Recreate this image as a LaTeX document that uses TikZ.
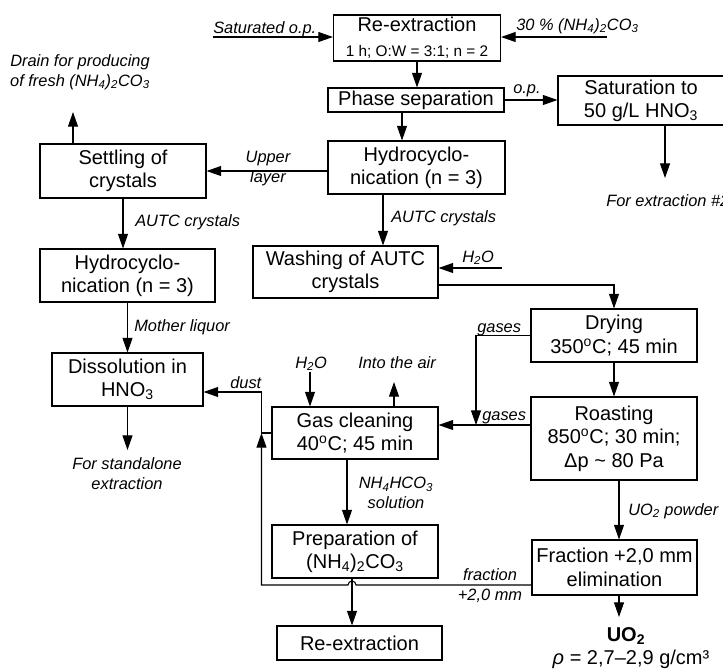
\documentclass[tikz,border=0pt]{standalone}
\usepackage{fontspec}
\setmainfont{Liberation Sans}
\usepackage{tikz}
\usetikzlibrary{arrows.meta,calc,positioning}

\newcommand{\boxfont}{\fontsize{15}{17.5}\selectfont}
\newcommand{\lblfont}{\fontsize{12.3}{15}\selectfont\itshape}
\newcommand{\sub}[1]{\textsubscript{#1}}

\tikzset{
    stage/.style={draw, line width=0.8pt, align=center, inner sep=0pt, font=\boxfont},
    lbl/.style={inner sep=0pt, align=center, font=\lblfont},
    arr/.style={-{Triangle[length=11pt,width=7.5pt]}, line width=0.8pt},
    ln/.style={line width=0.8pt}
}

\begin{document}
\begin{tikzpicture}[x=0.75pt,y=-0.75pt]
    \useasboundingbox (0,0) rectangle (723,668);

    \node[stage, minimum width=125.25pt, minimum height=34.5pt] (rex1) at (417,38)
        {Re-extraction\\[1pt]{\fontsize{11.5}{13}\selectfont 1 h; O:W = 3:1; n = 2}};
    \node[stage, minimum width=132pt, minimum height=18pt] (phase) at (416,100) {Phase separation};
    \node[stage, minimum width=124.5pt, minimum height=36.75pt] (sat) at (641,100.5) {Saturation to\\50 g/L HNO\sub{3}};
    \node[stage, minimum width=132.75pt, minimum height=39.75pt] (hydro) at (416.5,167.5) {Hydrocyclo-\\nication (n = 3)};
    \node[stage, minimum width=124.5pt, minimum height=40.5pt] (settle) at (123,171) {Settling of\\crystals};
    \node[stage, minimum width=131.25pt, minimum height=39.75pt] (hydro2) at (127.5,275.5) {Hydrocyclo-\\nication (n = 3)};
    \node[stage, minimum width=113.25pt, minimum height=39.75pt] (diss) at (127.5,379.5) {Dissolution in\\HNO\sub{3}};
    \node[stage, minimum width=138.75pt, minimum height=39pt] (wash) at (345.5,272) {Washing of AUTC\\crystals};
    \node[stage, minimum width=124.5pt, minimum height=39.75pt] (dry) at (614,335.5) {Drying\\350\textsuperscript{o}C; 45 min};
    \node[stage, minimum width=124.5pt, minimum height=62.25pt] (roast) at (614,438.5) {Roasting\\850\textsuperscript{o}C; 30 min;\\Δp \textasciitilde{} 80 Pa};
    \node[stage, minimum width=124.5pt, minimum height=39pt] (gas) at (355,433) {Gas cleaning\\40\textsuperscript{o}C; 45 min};
    \node[stage, minimum width=124.5pt, minimum height=39.75pt] (prep) at (355,551.5) {Preparation of\\(NH\sub{4})\sub{2}CO\sub{3}};
    \node[stage, minimum width=123.75pt, minimum height=41.25pt] (frac) at (614.5,567.5) {Fraction +2,0 mm\\elimination};
    \node[stage, minimum width=123.75pt, minimum height=25.5pt] (rex2) at (359.5,643) {Re-extraction};

    \node[lbl, anchor=base west] (lsat) at (213,33) {Saturated o.p.};
    \node[lbl, anchor=base west] (lnh4) at (516,30) {30 \% (NH\sub{4})\sub{2}CO\sub{3}};
    \node[lbl, anchor=base west] (lop) at (513,93) {o.p.};
    \node[lbl, anchor=base west] (lext) at (606,206) {For extraction \#2};
    \node[lbl] (lupper) at (268,169) {Upper\\layer};
    \node[lbl] (ldrain) at (80,72) {Drain for producing\\of fresh (NH\sub{4})\sub{2}CO\sub{3}};
    \node[lbl, anchor=base west] (lautc1) at (135,226) {AUTC crystals};
    \node[lbl, anchor=base west] (lmoth) at (134,331) {Mother liquor};
    \node[lbl] (lstand) at (127,474) {For standalone\\extraction};
    \node[lbl, anchor=base west] (lautc2) at (391,222) {AUTC crystals};
    \node[lbl, anchor=base west] (lwater1) at (462,262) {H\sub{2}O};
    \node[lbl, anchor=base west] (lgas1) at (477,332) {gases};
    \node[lbl, anchor=base west] (lgas2) at (482,420) {gases};
    \node[lbl, anchor=base west] (lwater2) at (295,368) {H\sub{2}O};
    \node[lbl, anchor=base west] (lair) at (358,368) {Into the air};
    \node[lbl, anchor=base west] (ldust) at (230,388) {dust};
    \node[lbl] (lbicarb) at (396,493) {NH\sub{4}HCO\sub{3}\\solution};
    \node[lbl] (lfrac) at (490,586) {fraction\\+2,0 mm};
    \node[lbl, anchor=base west] (lpow) at (628,515) {UO\sub{2} powder};
    \node[inner sep=0pt, anchor=base, font=\boxfont\bfseries] (luo) at (626,641) {UO\sub{2}};
    \node[inner sep=0pt, anchor=base, font=\boxfont] (lrho) at (631,664) {\textit{ρ} = 2,7–2,9 g/cm³};

    \coordinate (satin) at (213,37);
    \coordinate (amin) at (607,37);
    \coordinate (forex) at (665,178);
    \coordinate (dr) at (73,112);
    \coordinate (stand) at (127.5,450);
    \coordinate (h2oa) at (502,268);
    \coordinate (h2ob) at (310,372);
    \coordinate (air) at (394,382);
    \coordinate (gj) at (476,425);
    \coordinate (uo) at (619,617);
    \coordinate (p1) at ($(phase.south)+(-14,0)$);
    \coordinate (p2) at ($(hydro.south)+(-33.5,0)$);
    \coordinate (p3) at ($(wash.east)+(0,13)$);
    \coordinate (p4) at ($(roast.west)+(0,-13.5)$);
    \coordinate (p5) at ($(diss.east)+(0,12.5)$);
    \coordinate (p6) at ($(gas.south)+(-8,0)$);
    \coordinate (p7) at ($(prep.south)+(-3,0)$);
    \coordinate (p8) at ($(frac.west)+(0,17.5)$);
    \coordinate (p9) at ($(roast.south)+(5,0)$);
    \coordinate (jn) at ($(gas.west)+(-10,0)$);

    \draw[arr] (satin) -- (satin -| rex1.west);
    \draw[arr] (amin) -- (amin -| rex1.east);
    \draw[arr] (rex1.south) -- (rex1.south |- phase.north);
    \draw[arr] (phase.east) -- (phase.east -| sat.west);
    \draw[arr] (sat.south -| forex) -- (forex);
    \draw[arr] (p1) -- (p1 |- hydro.north);
    \draw[arr] (hydro.west |- settle.east) -- (settle.east);
    \draw[arr] (settle.north -| dr) -- (dr);
    \draw[arr] (settle.south) -- (settle.south |- hydro2.north);
    \draw[arr] (hydro2.south) -- (diss.north);
    \draw[arr] (diss.south) -- (stand);
    \draw[arr] (p2) -- (p2 |- wash.north);
    \draw[arr] (h2oa) -- (h2oa -| wash.east);
    \draw[arr] (p3) -| (dry.north);
    \draw[arr] (dry.south) -- (roast.north);
    \draw[arr] (dry.west) -| (gj);
    \draw[arr] (p4) -- (p4 -| gas.east);
    \draw[arr] (h2ob) -- (h2ob |- gas.north);
    \draw[arr] (gas.north -| air) -- (air);
    \draw[arr] (gas.west) -- (jn) |- (p5);
    \draw[arr] (p6) -- (p6 |- prep.north);
    \draw[arr] (p7) -- (p7 |- rex2.north);
    \draw[arr] (p8) -- ($(p7 |- p8)+(4,0)$) arc[start angle=0, end angle=180, radius=3pt]
        -- (jn |- p8) -- (jn);
    \draw[arr] (p9) -- (p9 |- frac.north);
    \draw[arr] (frac.south -| uo) -- (uo);
\end{tikzpicture}
\end{document}
